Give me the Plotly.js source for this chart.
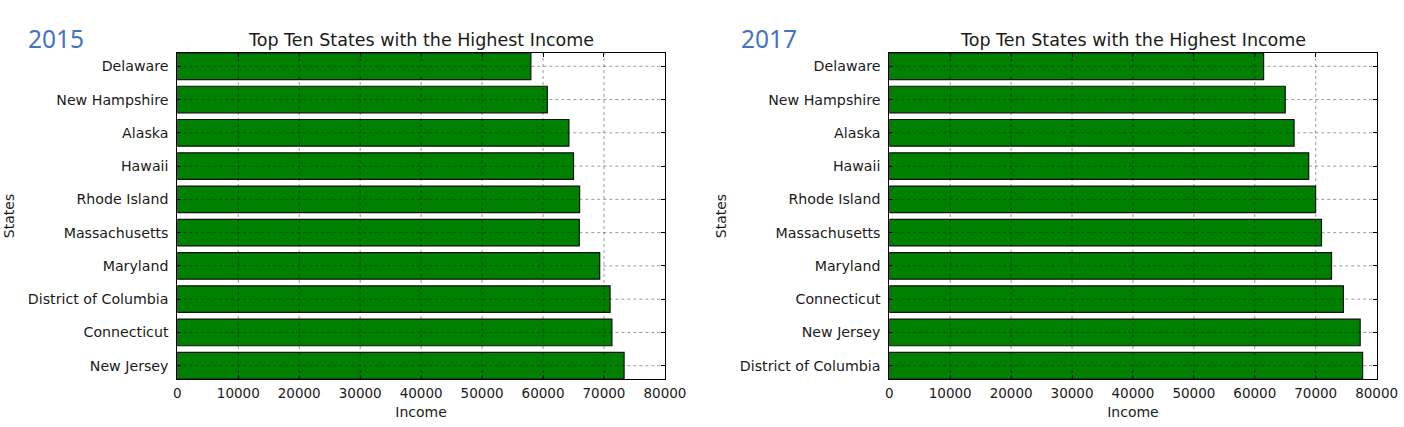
<!DOCTYPE html>
<html>
<head>
<meta charset="utf-8">
<script src="https://cdn.plot.ly/plotly-3.0.1.min.js"></script>
<style>html,body{margin:0;padding:0;background:#fff;}#chart{width:1404px;height:427px;}</style>
</head>
<body>
<div id="chart"></div>
<script>
// Categories listed bottom-to-top (as drawn on the category axis)
const states2015 = ["New Jersey", "Connecticut", "District of Columbia", "Maryland", "Massachusetts",
                    "Rhode Island", "Hawaii", "Alaska", "New Hampshire", "Delaware"];
const income2015 = [73300, 71300, 71000, 69300, 65950, 66000, 65000, 64250, 60700, 58000];

const states2017 = ["District of Columbia", "New Jersey", "Connecticut", "Maryland", "Massachusetts",
                    "Rhode Island", "Hawaii", "Alaska", "New Hampshire", "Delaware"];
const income2017 = [77700, 77300, 74550, 72600, 70950, 69980, 68850, 66450, 65000, 61450];

const xTicks = [0, 10000, 20000, 30000, 40000, 50000, 60000, 70000, 80000];
const panelLabels = ["2015", "2017"];
const chartTitle = "Top Ten States with the Highest Income";
const xTitle = "Income";
const yTitle = "States";

const FONT = "DejaVu Sans, sans-serif";
const TXT = "#1a1a1a";

function barTrace(states, vals, xa, ya) {
  return {
    type: "bar", orientation: "h", x: vals, y: states, xaxis: xa, yaxis: ya,
    width: 0.8,
    marker: {color: "#008000", line: {color: "#111", width: 1.2}},
    hoverinfo: "x+y", showlegend: false
  };
}

function xAxis(domain) {
  return {
    domain: domain, range: [xTicks[0], xTicks[xTicks.length - 1]],
    tickmode: "array", tickvals: xTicks, ticktext: xTicks.map(String),
    ticks: "inside", ticklen: 4, tickcolor: "#000", tickwidth: 1,
    showline: true, linecolor: "#000", linewidth: 1, mirror: "ticks",
    showgrid: false, zeroline: false, fixedrange: true,
    tickfont: {family: FONT, size: 13.5, color: TXT},
    ticklabelstandoff: 2,
    title: {text: xTitle, font: {family: FONT, size: 14, color: TXT}, standoff: 6}
  };
}

function yAxis(states, anchor) {
  return {
    domain: [0.1124, 0.8759], anchor: anchor,
    type: "category", categoryorder: "array", categoryarray: states,
    range: [-0.4, states.length - 0.6],
    ticks: "inside", ticklen: 4, tickcolor: "#000", tickwidth: 1,
    showline: true, linecolor: "#000", linewidth: 1, mirror: "ticks",
    showgrid: false, zeroline: false, fixedrange: true,
    tickfont: {family: FONT, size: 14.2, color: TXT},
    ticklabelstandoff: 5,
    title: {text: yTitle, font: {family: FONT, size: 14, color: TXT}, standoff: 9}
  };
}

// dotted grid drawn above the bars (matplotlib classic style)
function gridShapes(xa, ya, states) {
  const s = [];
  const ln = {color: "rgba(0,0,0,0.5)", width: 0.8, dash: "dot"};
  xTicks.slice(1, -1).forEach(v => s.push({type: "line", layer: "above", xref: xa, yref: ya + " domain",
    x0: v, x1: v, y0: 0, y1: 1, line: ln}));
  states.forEach((_, i) => s.push({type: "line", layer: "above", xref: xa + " domain", yref: ya,
    x0: 0, x1: 1, y0: i, y1: i, line: ln}));
  return s;
}

const data = [
  barTrace(states2015, income2015, "x", "y"),
  barTrace(states2017, income2017, "x2", "y2")
];

function titleAnn(xa, txt) {
  return {xref: xa + " domain", yref: "paper", x: 0.5, y: 0.906, xanchor: "center", yanchor: "middle",
    text: txt, showarrow: false, font: {family: FONT, size: 17.5, color: TXT}};
}
function yearAnn(x, txt) {
  return {xref: "paper", yref: "paper", x: x, y: 0.91, xanchor: "center", yanchor: "middle",
    text: txt, showarrow: false, font: {family: "Noto Sans, sans-serif", size: 24.5, color: "#4472C4"}};
}

const layout = {
  width: 1404, height: 427, autosize: false,
  margin: {l: 0, r: 0, t: 0, b: 0},
  paper_bgcolor: "#fff", plot_bgcolor: "#fff",
  bargap: 0.2,
  xaxis: xAxis([0.1263, 0.4736]),
  yaxis: yAxis(states2015, "x"),
  xaxis2: Object.assign(xAxis([0.6334, 0.9805]), {anchor: "y2"}),
  yaxis2: yAxis(states2017, "x2"),
  shapes: gridShapes("x", "y", states2015).concat(gridShapes("x2", "y2", states2017)),
  annotations: [
    titleAnn("x", chartTitle), titleAnn("x2", chartTitle),
    yearAnn(0.0399, panelLabels[0]), yearAnn(0.548, panelLabels[1])
  ]
};

Plotly.newPlot("chart", data, layout, {displayModeBar: false, staticPlot: true});
</script>
</body>
</html>
